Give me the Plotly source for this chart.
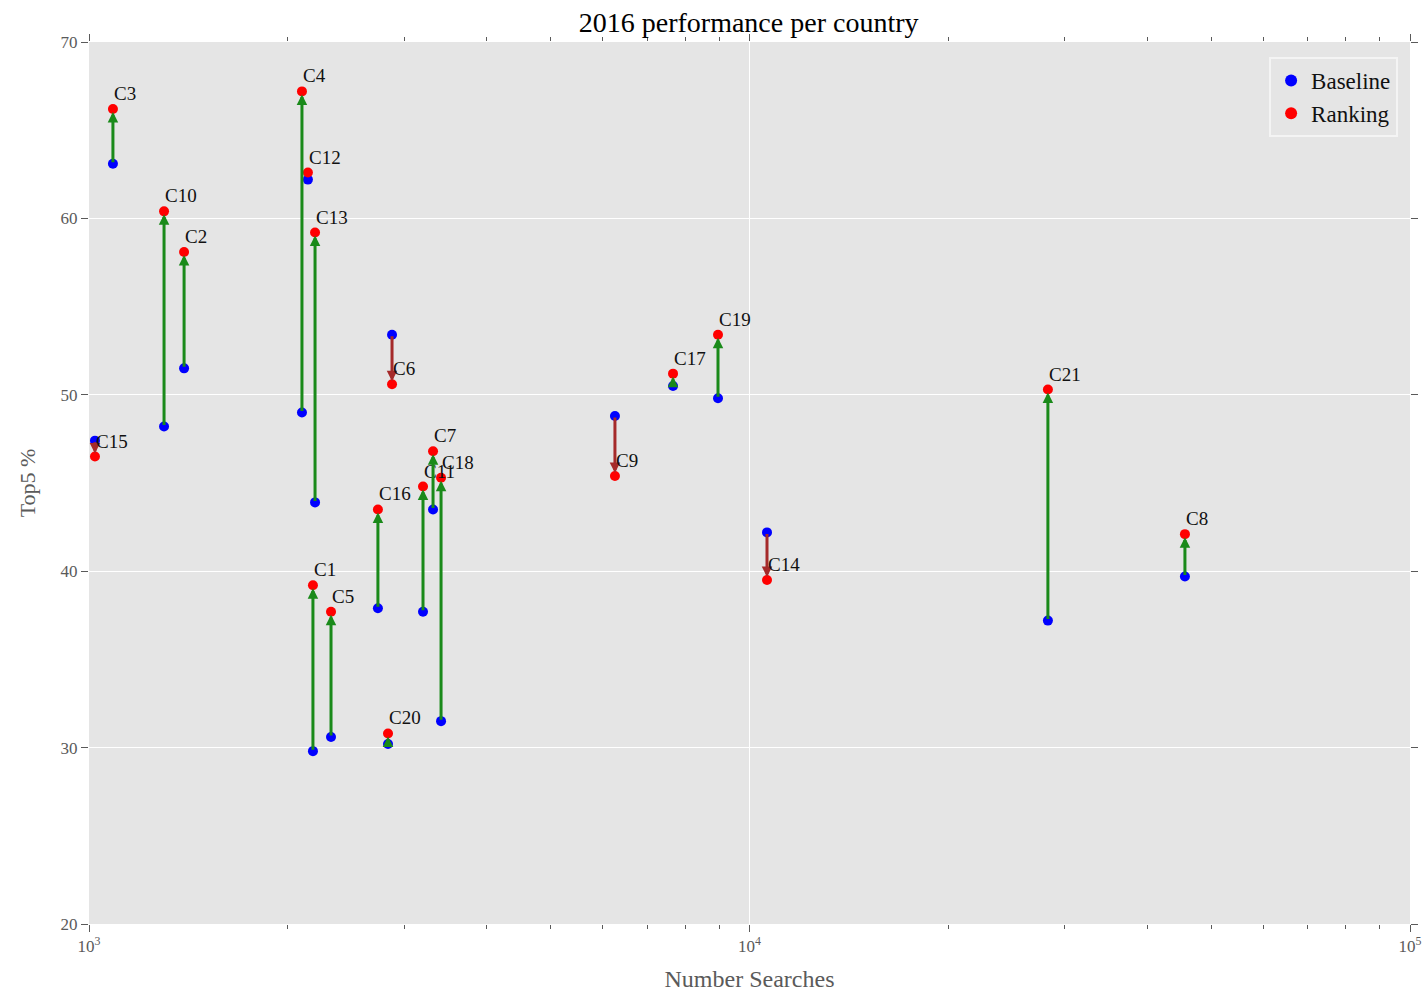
import math
import plotly.graph_objects as go

countries = ["C3", "C10", "C2", "C4", "C12", "C13", "C1", "C5", "C16", "C20", "C6",
             "C11", "C7", "C18", "C15", "C9", "C17", "C19", "C14", "C21", "C8"]
searches = [1087, 1299, 1393, 2101, 2145, 2199, 2183, 2325, 2738, 2836, 2876,
            3204, 3318, 3412, 1021, 6256, 7660, 8960, 10629, 28300, 45630]
baseline = [63.1, 48.2, 51.5, 49.0, 62.2, 43.9, 29.8, 30.6, 37.9, 30.2, 53.4,
            37.7, 43.5, 31.5, 47.4, 48.8, 50.5, 49.8, 42.2, 37.2, 39.7]
ranking = [66.2, 60.4, 58.1, 67.2, 62.6, 59.2, 39.2, 37.7, 43.5, 30.8, 50.6,
           44.8, 46.8, 45.3, 46.5, 45.4, 51.2, 53.4, 39.5, 50.3, 42.1]

x_tickvals = [1e3, 1e4, 1e5]
x_ticktext = ["10<sup>3</sup>", "10<sup>4</sup>", "10<sup>5</sup>"]
y_tickvals = [20, 30, 40, 50, 60, 70]
minor_x = [m * 10 ** e for e in (3, 4) for m in range(2, 10)]

FONT = "Liberation Serif"
GRAY = "#5a5a5a"

fig = go.Figure()
fig.add_trace(go.Scatter(x=searches, y=baseline, mode="markers", name="Baseline",
                         marker=dict(color="#0000ff", size=10)))
fig.add_trace(go.Scatter(x=searches, y=ranking, mode="markers", name="Ranking",
                         marker=dict(color="#ff0000", size=10)))

annotations = []
for c, xv, b, r in zip(countries, searches, baseline, ranking):
    lx = math.log10(xv)
    col = "#1a8a1a" if r >= b else "#a52a2a"
    annotations.append(dict(x=lx, y=r, ax=lx, ay=b, xref="x", yref="y",
                            axref="x", ayref="y", text="", showarrow=True,
                            arrowhead=2, arrowsize=0.7, arrowwidth=3,
                            arrowcolor=col, standoff=3, startstandoff=0))
    annotations.append(dict(x=lx, y=r, xref="x", yref="y", text=c, showarrow=False,
                            xanchor="left", yanchor="bottom", xshift=-1, yshift=3,
                            font=dict(family=FONT, size=19, color="#111111")))

fig.update_layout(
    width=1426, height=995,
    margin=dict(l=89, r=16, t=42, b=71, autoexpand=False),
    paper_bgcolor="white", plot_bgcolor="#e5e5e5",
    title=dict(text="2016 performance per country", x=0.525, xanchor="center",
               y=0.978, yanchor="middle",
               font=dict(family=FONT, size=28, color="#000000")),
    font=dict(family=FONT, color=GRAY),
    legend=dict(x=0.991, y=0.983, xanchor="right", yanchor="top",
                bgcolor="#e5e5e5", bordercolor="#f4f4f4", borderwidth=2,
                font=dict(family=FONT, size=23, color="#111111"),
                itemsizing="constant", tracegroupgap=4),
    annotations=annotations,
    showlegend=True,
)
fig.update_xaxes(type="log", range=[3, 5], tickvals=x_tickvals, ticktext=x_ticktext,
                 showgrid=True, gridcolor="white", gridwidth=1.2,
                 ticks="outside", ticklen=7, tickcolor=GRAY, mirror="ticks",
                 showline=False, zeroline=False, automargin=False,
                 tickfont=dict(family=FONT, size=17, color=GRAY),
                 minor=dict(tickvals=minor_x, ticks="outside", ticklen=4,
                            tickcolor=GRAY, showgrid=False),
                 title=dict(text="Number Searches", standoff=14,
                            font=dict(family=FONT, size=24, color=GRAY)))
fig.update_yaxes(range=[20, 70], tickvals=y_tickvals,
                 showgrid=True, gridcolor="white", gridwidth=1.2,
                 ticks="outside", ticklen=7, tickcolor=GRAY, mirror="ticks",
                 showline=False, zeroline=False, automargin=False,
                 tickfont=dict(family=FONT, size=17, color=GRAY),
                 title=dict(text="Top5 %", standoff=18,
                            font=dict(family=FONT, size=22, color=GRAY)))

fig.write_html("out.html", config={"displayModeBar": False},
               post_script="document.body.style.margin='0';"
                           "document.body.style.overflow='hidden';")
